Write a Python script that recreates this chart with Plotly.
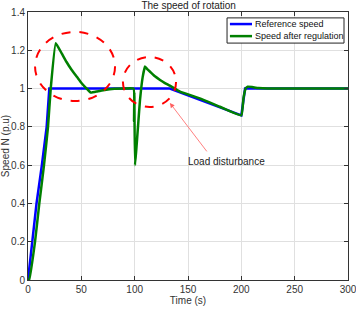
import plotly.graph_objects as go

ref_t = [0, 4, 8, 13, 17.5, 20, 133, 200, 203.5, 300]
ref_v = [0, 0.2, 0.4, 0.6, 0.8, 1.0, 1.0, 0.86, 1.0, 1.0]

reg_t = [0, 1, 6.6, 10.6, 15, 18.75, 21.3, 26, 31.6, 36, 41, 46, 50.3, 55, 58.8, 65, 72, 81,
         90, 99, 99.4, 99.7, 100.3, 105, 107.5, 109.7, 112, 114.4, 119, 123.8, 128, 133,
         142.5, 161, 180, 200, 202, 204, 206, 210, 216, 225, 300]
reg_v = [0, 0.0, 0.2, 0.4, 0.6, 0.8, 1.0, 1.237, 1.184, 1.14, 1.097, 1.06, 1.028, 1.0, 0.979,
         0.985, 0.993, 0.999, 1.0, 1.0, 0.83, 0.98, 0.6, 0.94, 1.06, 1.115, 1.10, 1.088, 1.064,
         1.045, 1.03, 1.015, 0.984, 0.949, 0.905, 0.86, 0.95, 1.0, 1.01, 1.008, 1.003, 1.0, 1.0]

series_names = ["Reference speed", "Speed after regulation"]
series_colors = ["#0000ff", "#008000"]

x_ticks = [0, 50, 100, 150, 200, 250, 300]
y_ticks = [0, 0.2, 0.4, 0.6, 0.8, 1, 1.2, 1.4]
y_tick_labels = ["0", "0.2", "0.4", "0.6", "0.8", "1", "1.2", "1.4"]

fig = go.Figure()
fig.add_trace(go.Scatter(x=ref_t, y=ref_v, mode="lines", name=series_names[0],
                         line=dict(color=series_colors[0], width=2.5)))
fig.add_trace(go.Scatter(x=reg_t, y=reg_v, mode="lines", name=series_names[1],
                         line=dict(color=series_colors[1], width=2.5, shape="spline",
                                   smoothing=0.3)))

# dashed ellipses
fig.add_shape(type="circle", xref="x", yref="y", x0=6.6, x1=81.6, y0=0.935, y1=1.296,
              line=dict(color="red", width=2, dash="dash"))
fig.add_shape(type="circle", xref="x", yref="y", x0=89, x1=138.8, y0=0.904, y1=1.165,
              line=dict(color="red", width=2, dash="dash"))

fig.add_annotation(x=133, y=0.925, ax=168.7, ay=0.664, xref="x", yref="y",
                   axref="x", ayref="y", text="", showarrow=True, arrowhead=2,
                   arrowsize=1.2, arrowwidth=0.8, arrowcolor="#ff6060")
fig.add_annotation(x=186, y=0.617, xref="x", yref="y", text="Load disturbance",
                   showarrow=False, font=dict(size=10, color="#222"))

# legend box (MATLAB style)
fig.add_shape(type="rect", xref="paper", yref="paper", x0=0.622, x1=0.9875, y0=0.884, y1=0.978,
              line=dict(color="#222", width=1), fillcolor="white", layer="above")
for i, (nm, col) in enumerate(zip(series_names, series_colors)):
    yy = 0.955 - i * 0.045
    fig.add_shape(type="line", xref="paper", yref="paper", x0=0.631, x1=0.7, y0=yy, y1=yy,
                  line=dict(color=col, width=2.5), layer="above")
    fig.add_annotation(x=0.702, y=yy, xref="paper", yref="paper", text=nm, showarrow=False,
                       xanchor="left", yanchor="middle", font=dict(size=9, color="#111"))

axis_common = dict(showline=True, linecolor="#333", linewidth=1, mirror="ticks",
                   ticks="inside", ticklen=4, tickcolor="#333", showgrid=True,
                   gridcolor="#e0e0e0", gridwidth=1, zeroline=False, automargin=False,
                   ticklabeloverflow="allow",
                   tickfont=dict(size=10, color="#333"))

fig.update_xaxes(range=[0, 300], tickvals=x_ticks,
                 title=dict(text="Time (s)", font=dict(size=10, color="#333"), standoff=2),
                 **axis_common)
fig.update_yaxes(range=[0, 1.4], tickvals=y_ticks, ticktext=y_tick_labels,
                 title=dict(text="Speed N (p.u)", font=dict(size=10, color="#333"), standoff=2),
                 **axis_common)

fig.update_layout(
    width=356, height=309,
    margin=dict(l=28, r=8, t=12, b=29, autoexpand=False),
    paper_bgcolor="white", plot_bgcolor="white",
    font=dict(family="Liberation Sans, Arial, sans-serif", size=10, color="#222"),
    title=dict(text="The speed of rotation", x=0.53, xanchor="center", y=0.993, yanchor="top",
               font=dict(size=10, color="#222")),
    showlegend=False,
)

fig.write_html("out.html", config={"displayModeBar": False},
               post_script="document.body.style.margin='0';document.body.style.overflow='hidden';")
